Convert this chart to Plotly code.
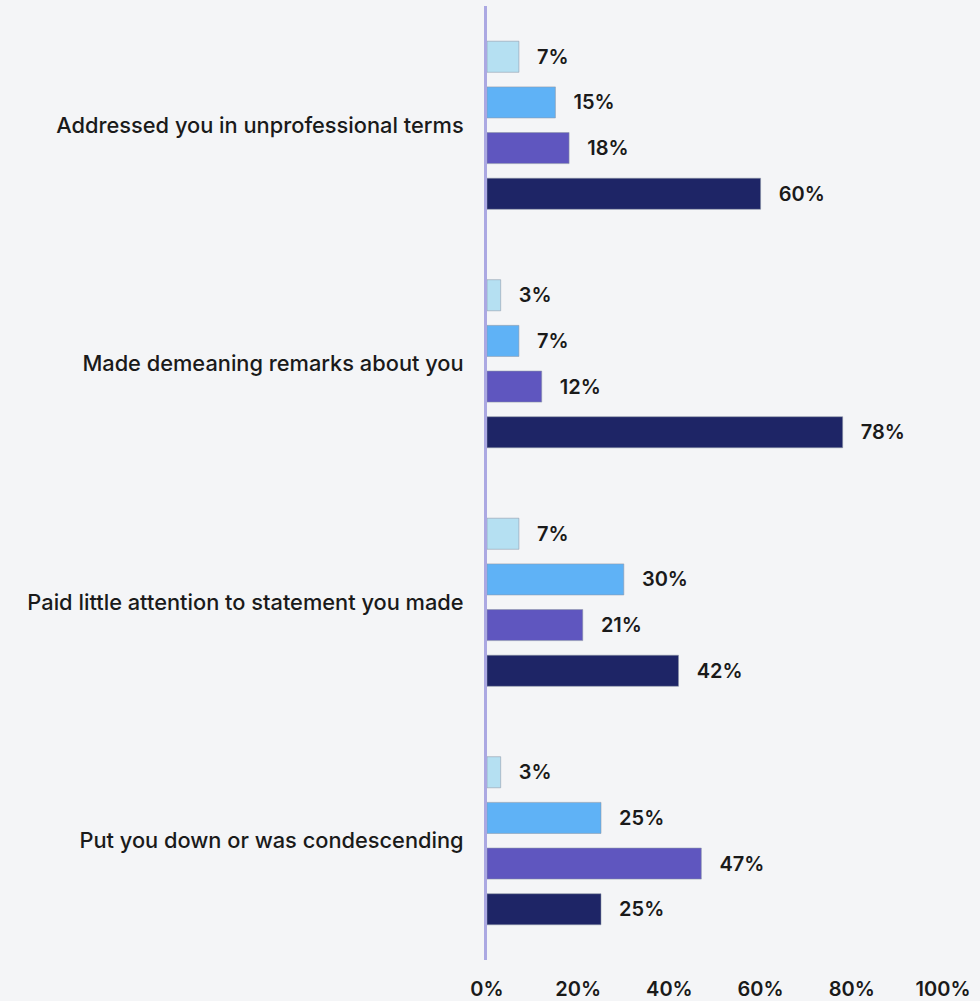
import plotly.graph_objects as go

# Survey responses per behaviour, one series per response group
categories = [
    "Addressed you in unprofessional terms",
    "Made demeaning remarks about you",
    "Paid little attention to statement you made",
    "Put you down or was condescending",
]
series_a = [7, 3, 7, 3]
series_b = [15, 7, 30, 25]
series_c = [18, 12, 21, 47]
series_d = [60, 78, 42, 25]

series_values = [series_a, series_b, series_c, series_d]
series_colors = ["#b5e0f2", "#5fb2f6", "#5f56bf", "#1e2566"]

tick_vals = [0, 20, 40, 60, 80, 100]
tick_text = ["0%", "20%", "40%", "60%", "80%", "100%"]

FONT = "Inter"
NBSP = "\u00a0"

fig = go.Figure()
for vals, color in zip(series_values, series_colors):
    fig.add_trace(go.Bar(
        x=vals,
        y=categories,
        orientation="h",
        marker=dict(color=color, line=dict(color="rgba(140,150,165,0.55)", width=1)),
        text=[f"{NBSP * 3}{v}%" for v in vals],
        textposition="outside",
        textfont=dict(family=FONT, size=20, color="#1a1a1a", weight=600),
        cliponaxis=False,
        hoverinfo="skip",
        showlegend=False,
    ))

fig.update_layout(
    width=980,
    height=1001,
    barmode="group",
    bargap=0.234,
    bargroupgap=0.32,
    paper_bgcolor="#f4f5f7",
    plot_bgcolor="#f4f5f7",
    margin=dict(l=487, r=37, t=6, b=41),
    showlegend=False,
)

fig.update_xaxes(
    range=[0, 100],
    tickvals=tick_vals,
    ticktext=tick_text,
    showgrid=False,
    zeroline=False,
    showline=False,
    ticks="",
    automargin=False,
    ticklabelstandoff=15,
    tickfont=dict(family=FONT, size=20, color="#1a1a1a", weight=600),
)

fig.update_yaxes(
    autorange="reversed",
    showgrid=False,
    zeroline=False,
    showline=True,
    linecolor="#aba8e2",
    linewidth=3,
    ticks="",
    automargin=False,
    ticklabelstandoff=16,
    tickfont=dict(family=FONT, size=21.8, color="#1a1a1a", weight=500),
)

fig.write_html("out.html")
